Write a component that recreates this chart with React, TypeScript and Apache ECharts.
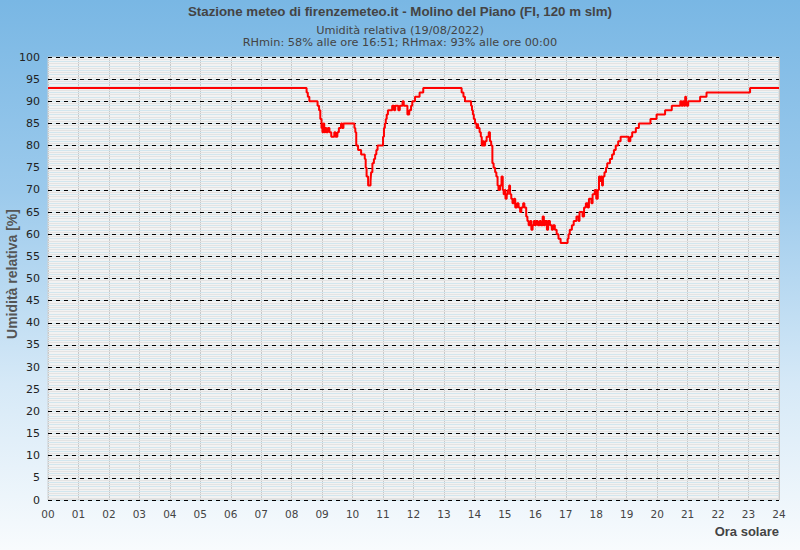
import React, { useEffect, useRef } from "react";
import * as echarts from "echarts";

const titleText = "Stazione meteo di firenzemeteo.it - Molino del Piano (FI, 120 m slm)";
const subtitleLines = [
  "Umidità relativa (19/08/2022)",
  "RHmin: 58% alle ore 16:51; RHmax: 93% alle ore 00:00",
];
const yAxisName = "Umidità relativa [%]";
const xAxisName = "Ora solare";

// time of change (decimal hours) and relative humidity [%] from that time on
const hours = [
  0, 8.49, 8.53, 8.58, 8.85, 8.9, 8.94, 8.98, 9.01, 9.04, 9.07, 9.1, 9.14, 9.19, 9.24, 9.3, 9.4, 9.44, 9.5,
  9.55, 9.62, 9.66, 9.7, 10.06, 10.09, 10.12, 10.18, 10.28, 10.4, 10.43, 10.46, 10.51, 10.59, 10.61, 10.65,
  10.7, 10.74, 10.78, 10.82, 11.0, 11.03, 11.06, 11.09, 11.12, 11.16, 11.3, 11.36, 11.4, 11.5, 11.55, 11.64,
  11.68, 11.8, 11.86, 11.92, 11.96, 12.05, 12.2, 12.32,
  13.58, 13.64, 13.69, 13.89, 13.92, 13.95, 13.98, 14.02, 14.07, 14.11, 14.13, 14.17, 14.21, 14.24, 14.28,
  14.31, 14.35, 14.4, 14.47, 14.51, 14.55, 14.59, 14.63, 14.68, 14.72, 14.76, 14.79, 14.84, 14.89, 14.93,
  14.96, 14.99, 15.02, 15.06, 15.1, 15.14, 15.17, 15.21, 15.25, 15.3, 15.34, 15.4, 15.45, 15.5, 15.54, 15.6,
  15.64, 15.7, 15.74, 15.78, 15.83, 15.87, 15.91, 15.95, 15.99, 16.02, 16.08, 16.14, 16.18, 16.24, 16.28,
  16.32, 16.38, 16.42, 16.48, 16.54, 16.58, 16.64, 16.7, 16.76, 16.83, 17.06, 17.09, 17.13, 17.2, 17.26,
  17.35, 17.42, 17.45, 17.55, 17.6, 17.66, 17.72, 17.76, 17.84, 17.88, 17.95, 18.0, 18.05, 18.09,
  18.12, 18.15, 18.19, 18.22, 18.27, 18.32, 18.36, 18.45, 18.52, 18.58, 18.64, 18.72, 18.8, 19.06, 19.12,
  19.18, 19.3, 19.4, 19.78, 19.98, 20.26, 20.48, 20.76, 20.8, 20.84, 20.88, 20.92, 20.95, 20.97, 21.02,
  21.41, 21.62, 23.05, 24,
];
const humidity = [
  93, 92, 91, 90, 89, 88, 86, 84, 83, 85, 83, 84, 83, 84, 83, 82, 83, 82, 83,
  84, 85, 84, 85, 84, 83, 80, 79, 78, 77, 75, 73, 71, 72, 74, 76,
  77, 78, 79, 80, 82, 84, 85, 86, 87, 88, 89, 88, 89, 88, 89, 90,
  89, 87, 88, 89, 90, 91, 92, 93,
  92, 91, 90, 89, 88, 87, 86, 85, 84, 85, 84, 83, 82, 80, 81,
  80, 81, 82, 83, 81, 80, 76, 75, 74, 73, 71, 70, 71, 73, 70,
  69, 70, 68, 69, 70, 71, 69, 68, 67, 68, 66, 67, 66, 65, 66, 67,
  66, 64, 63, 62, 63, 61, 62, 63, 62, 63, 62, 63, 62, 64, 62,
  63, 61, 63, 62, 61, 62, 61, 60, 59, 58, 59, 60, 61, 62, 63,
  64, 63, 65, 64, 66, 67, 66, 68, 67, 69, 70, 68, 70, 73,
  72, 73, 71, 73, 74, 75, 76, 77, 78, 79, 80, 81, 82, 81, 82,
  83, 84, 85, 86, 87, 88, 89, 90, 89, 90, 89, 91, 90, 89, 90,
  91, 92, 93, 93,
];

const FONT = "DejaVu Sans";
const BOLD_FONT = "Liberation Sans";

export default function App() {
  const ref = useRef<HTMLDivElement>(null);

  useEffect(() => {
    if (!ref.current) return;
    const chart = echarts.init(ref.current, null, { renderer: "svg" });
    const data = hours.map((h, i) => [h, humidity[i]]);
    chart.setOption({
      animation: false,
      backgroundColor: "transparent",
      title: {
        text: titleText,
        subtext: subtitleLines.join("\n"),
        left: "center",
        top: 0,
        itemGap: 6,
        textStyle: { fontFamily: BOLD_FONT, fontWeight: "bold", fontSize: 13.3, color: "#444" },
        subtextStyle: { fontFamily: FONT, fontSize: 11.3, color: "#444", lineHeight: 12 },
      },
      grid: {
        left: 48,
        right: 21,
        top: 57,
        bottom: 50,
        show: true,
        backgroundColor: "#f2f2f2",
        borderColor: "#d0d0d0",
        borderWidth: 1,
      },
      xAxis: {
        type: "value",
        min: 0,
        max: 24,
        interval: 1,
        axisLine: { show: false },
        axisTick: { show: false },
        axisLabel: {
          fontFamily: FONT,
          fontSize: 10.5,
          color: "#444",
          margin: 8,
          formatter: (v: number) => String(v).padStart(2, "0"),
        },
        splitLine: { show: true, lineStyle: { color: "#c8c8c8", width: 1 } },
      },
      yAxis: [
        {
          type: "value",
          min: 0,
          max: 100,
          interval: 5,
          z: 3,
          axisLine: { show: false },
          axisTick: { show: false },
          axisLabel: { fontFamily: FONT, fontSize: 11, color: "#222", margin: 8 },
          splitLine: { show: true, lineStyle: { color: "#000", width: 1, type: [4, 4] } },
        },
        {
          type: "value",
          min: 0,
          max: 100,
          interval: 0.5,
          z: 1,
          position: "left",
          axisLine: { show: false },
          axisTick: { show: false },
          axisLabel: { show: false },
          splitLine: { show: true, lineStyle: { color: ["#d2e6ee", "#e3e3e3"], width: 1 } },
        },
      ],
      series: [
        {
          type: "line",
          yAxisIndex: 0,
          data,
          step: "end",
          showSymbol: false,
          symbol: "none",
          z: 5,
          lineStyle: { color: "#ff0000", width: 2 },
        },
      ],
      graphic: [
        {
          type: "text",
          x: 12,
          y: 274,
          rotation: Math.PI / 2,
          style: {
            text: yAxisName,
            fontFamily: BOLD_FONT,
            fontWeight: "bold",
            fontSize: 14,
            fill: "#555",
            align: "center",
            verticalAlign: "middle",
          },
        },
        {
          type: "text",
          x: 779,
          y: 531,
          style: {
            text: xAxisName,
            fontFamily: BOLD_FONT,
            fontWeight: "bold",
            fontSize: 13,
            fill: "#444",
            align: "right",
            verticalAlign: "middle",
          },
        },
      ],
    });
    return () => chart.dispose();
  }, []);

  return (
    <div
      style={{
        position: "fixed",
        left: 0,
        top: 0,
        width: 800,
        height: 550,
        background: "linear-gradient(to bottom, #79b7e4 0%, #9ccaec 35%, #d6e9f7 70%, #f8fbfd 100%)",
      }}
    >
      <div ref={ref} style={{ width: 800, height: 550 }} />
    </div>
  );
}
